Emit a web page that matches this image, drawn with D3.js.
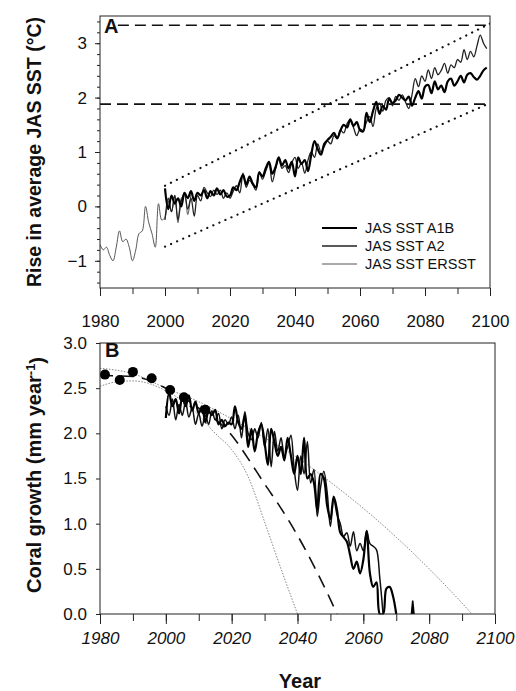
<!DOCTYPE html>
<html>
<head>
<meta charset="utf-8">
<script src="https://cdn.jsdelivr.net/npm/d3@7"></script>
<style>
  body { margin: 0; background: #fff; }
  text { font-family: "Liberation Sans", Arial, sans-serif; fill: #111; }
</style>
</head>
<body>
<script>
// ---- panel A data: rise in average JAS SST (deg C) ----
var ersstStart = 1980;
var sstERSST = [-0.7, -0.8, -0.75, -0.9, -1.0, -0.75, -0.45, -0.65, -0.6, -0.75,
  -1.0, -0.8, -0.5, -0.45, 0.0, -0.3, -0.5, -0.75, 0.05, -0.25,
  -0.2, 0.1, -0.1, 0.2, -0.3, 0.15, 0.2, -0.15, 0.25];

var scenStart = 2000;
var sstA1B = [0.33, -0.05, 0.2, 0.05, 0.15, 0.0, 0.25, 0.15, 0.28, 0.1,
  0.25, 0.2, 0.3, 0.15, 0.28, 0.2, 0.33, 0.22, 0.3, 0.18,
  0.2, 0.35, 0.3, 0.45, 0.58, 0.4, 0.55, 0.42, 0.35, 0.62,
  0.55, 0.7, 0.82, 0.6, 0.72, 0.9, 0.75, 0.85, 0.7, 0.82,
  0.55, 0.9, 0.78, 0.85, 0.65, 0.95, 1.2, 1.05, 0.95, 1.15,
  1.22, 1.28, 1.35, 1.25, 1.4, 1.5, 1.45, 1.6, 1.48, 1.55,
  1.4, 1.38, 1.72, 1.55, 1.75, 1.92, 1.7, 1.85, 1.78, 1.98,
  1.9, 1.95, 2.05, 2.0, 1.95, 2.02, 1.85, 2.0, 2.12, 1.98,
  2.2, 2.23, 2.08, 2.3, 2.15, 2.22, 2.1, 2.3, 2.35, 2.22,
  2.3, 2.4, 2.28, 2.42, 2.45, 2.38, 2.33, 2.4, 2.5, 2.55];
var sstA2 = [-0.25, 0.15, -0.1, 0.2, -0.25, 0.1, 0.25, -0.05, 0.15, -0.18,
  0.2, 0.1, 0.35, 0.25, 0.18, 0.3, 0.22, 0.3, 0.15, 0.25,
  0.15, 0.28, 0.38, 0.25, 0.61, 0.35, 0.48, 0.4, 0.3, 0.64,
  0.5, 0.65, 0.78, 0.45, 0.68, 0.88, 0.7, 0.75, 0.62, 0.8,
  0.9, 0.7, 0.8, 0.61, 0.85, 1.0, 0.9, 1.15, 1.0, 1.1,
  1.2, 1.15, 1.3, 1.25, 1.4, 1.35, 1.52, 1.59, 1.45, 1.3,
  1.42, 1.4, 1.55, 1.65, 1.47, 1.8, 1.9, 1.75, 1.95, 2.0,
  1.85, 2.02, 1.95, 2.05, 1.92, 1.8, 2.05, 2.35, 2.2, 2.4,
  2.3, 2.51, 2.35, 2.55, 2.42, 2.5, 2.63, 2.45, 2.6, 2.55,
  2.7, 2.65, 2.88, 2.7, 2.85, 2.75, 2.95, 3.15, 3.0, 2.9];

var thresholdLevels = [3.33, 1.88];
var thresholdStart = [1985.5, 1980];
var bandYears = [2000, 2100];
var bandUpper = [0.38, 3.36];
var bandLower = [-0.74, 1.9];

// ---- panel B data: coral growth (mm per year) ----
var obsYears = [1981.5, 1986, 1990, 1995.7, 2001.3, 2005.5, 2012];
var obsGrowth = [2.65, 2.59, 2.68, 2.61, 2.48, 2.4, 2.26];

var growthA1B = [2.17, 2.45, 2.3, 2.38, 2.22, 2.4, 2.3, 2.42, 2.25, 2.35,
  2.22, 2.3, 2.12, 2.25, 2.2, 2.26, 2.1, 2.15, 2.08, 2.12,
  2.1, 2.3, 2.12, 2.05, 2.2, 1.85, 2.05, 1.8, 2.0, 2.1,
  1.9, 1.65, 2.05, 1.9, 1.75, 1.85, 1.7, 1.95, 1.75, 1.55,
  1.75, 1.55, 1.95, 1.5, 1.55, 1.45, 1.15, 1.55, 1.5, 1.2,
  1.05, 1.3, 1.15, 0.9, 0.85, 0.8, 0.65, 0.5, 0.58, 0.45,
  0.6, 0.92, 0.45, 0.3, 0.35, 0.0, 0.0, 0.28, 0.3, 0.2, 0.0];
var growthA2 = [2.3, 2.2, 2.38, 2.15, 2.32, 2.2, 2.35, 2.18, 2.28, 2.1,
  2.22, 2.08, 2.2, 2.1, 2.25, 2.15, 2.22, 2.05, 2.15, 2.1,
  2.18, 2.05, 2.2, 1.95, 2.24, 2.0, 1.93, 2.05, 1.95, 2.12,
  1.85, 2.05, 1.63, 2.02, 1.8, 1.95, 1.75, 1.85, 1.98, 1.6,
  1.37, 1.75, 1.55, 1.91, 1.45, 1.6, 1.08, 1.4, 1.58, 1.35,
  0.97, 1.28, 1.1, 1.0, 0.86, 0.9, 0.75, 0.91, 0.7, 0.78,
  0.7, 0.92, 0.78, 0.75, 0.71, 0.4, 0.0];
var spikeYears = [2074.6, 2075, 2075.4];
var spikeGrowth = [0, 0.15, 0];

var fitUpperYears = [1980, 1990, 2000, 2010, 2020, 2030, 2040, 2050, 2060, 2070, 2080, 2090, 2093];
var fitUpper = [2.72, 2.66, 2.5, 2.35, 2.16, 1.95, 1.73, 1.46, 1.17, 0.85, 0.5, 0.12, 0];
var fitMidYears = [1980, 1990, 2000, 2010, 2020, 2025, 2030, 2035, 2040, 2045, 2050, 2052];
var fitMid = [2.64, 2.63, 2.5, 2.28, 1.98, 1.72, 1.44, 1.17, 0.87, 0.53, 0.16, 0];
var fitLowerYears = [1980, 1985, 1990, 1995, 2000, 2005, 2010, 2015, 2020, 2025, 2030, 2035, 2040];
var fitLower = [2.52, 2.57, 2.58, 2.55, 2.47, 2.36, 2.2, 2.0, 1.82, 1.52, 1.02, 0.5, 0];

var legendLabels = ["JAS SST A1B", "JAS SST A2", "JAS SST ERSST"];

function pairs(start, vals) { return vals.map(function(v, i) { return [start + i, v]; }); }
function zip(xs, vals) { return vals.map(function(v, i) { return [xs[i], v]; }); }

var svg = d3.select("body").append("svg")
  .attr("width", 516).attr("height", 691);
svg.append("rect").attr("width", 516).attr("height", 691).attr("fill", "#fff");

// scales
var xA = d3.scaleLinear().domain([1980, 2100]).range([100, 490]);
var yA = d3.scaleLinear().domain([-1.5, 3.5]).range([288, 16]);
var xB = d3.scaleLinear().domain([1980, 2100]).range([100, 495]);
var yB = d3.scaleLinear().domain([0, 3]).range([614, 343]);

var defs = svg.append("defs");
defs.append("clipPath").attr("id", "clipA").append("rect")
  .attr("x", 100).attr("y", 16).attr("width", 390).attr("height", 272);
defs.append("clipPath").attr("id", "clipB").append("rect")
  .attr("x", 100).attr("y", 343).attr("width", 395).attr("height", 271.5);

function styleAxis(g) {
  g.select(".domain").remove();
  g.selectAll(".tick line").attr("stroke", "#222");
  g.selectAll(".tick text").attr("fill", "#111");
}

// ========== panel A ==========
var yearTicks = d3.range(1980, 2101, 10);
var yearLabels = d3.range(1980, 2101, 20);

svg.append("g").attr("transform", "translate(0,288)")
  .call(d3.axisBottom(xA).tickValues(yearTicks).tickSize(6).tickFormat(""))
  .call(styleAxis);
svg.append("g").attr("transform", "translate(0,288)")
  .call(d3.axisBottom(xA).tickValues(yearLabels).tickSize(8).tickPadding(19).tickFormat(d3.format("d")))
  .call(styleAxis)
  .selectAll("text").style("font-size", "17px");

svg.append("g").attr("transform", "translate(100,0)")
  .call(d3.axisLeft(yA).tickValues(d3.range(-14, 35, 2).map(function(d) { return d / 10; })).tickSize(3).tickFormat(""))
  .call(styleAxis);
svg.append("g").attr("transform", "translate(100,0)")
  .call(d3.axisLeft(yA).tickValues([-1, 0, 1, 2, 3]).tickSize(5).tickPadding(8).tickFormat(d3.format("d")))
  .call(styleAxis)
  .selectAll("text").style("font-size", "17px");

var plotA = svg.append("g").attr("clip-path", "url(#clipA)");
var lineA = d3.line().x(function(d) { return xA(d[0]); }).y(function(d) { return yA(d[1]); });
var wiggleA = d3.line().x(function(d) { return xA(d[0]); }).y(function(d) { return yA(d[1]); })
  .curve(d3.curveCatmullRom.alpha(0.5));

// threshold dashes
thresholdLevels.forEach(function(v, i) {
  plotA.append("path").datum([[thresholdStart[i], v], [2100, v]])
    .attr("d", lineA).attr("fill", "none").attr("stroke", "#111")
    .attr("stroke-width", 1.6).attr("stroke-dasharray", "11,6");
});
// trend band (dotted)
[bandUpper, bandLower].forEach(function(b) {
  plotA.append("path").datum(zip(bandYears, b))
    .attr("d", lineA).attr("fill", "none").attr("stroke", "#111")
    .attr("stroke-width", 2.2).attr("stroke-linecap", "round")
    .attr("stroke-dasharray", "0.1,6.5");
});

plotA.append("path").datum(pairs(ersstStart, sstERSST))
  .attr("d", wiggleA).attr("fill", "none").attr("stroke", "#555").attr("stroke-width", 1);
plotA.append("path").datum(pairs(scenStart, sstA2))
  .attr("d", wiggleA).attr("fill", "none").attr("stroke", "#222").attr("stroke-width", 1.3);
plotA.append("path").datum(pairs(scenStart, sstA1B))
  .attr("d", wiggleA).attr("fill", "none").attr("stroke", "#000").attr("stroke-width", 2.2);

svg.append("rect").attr("x", 100).attr("y", 16).attr("width", 390).attr("height", 272)
  .attr("fill", "none").attr("stroke", "#222").attr("stroke-width", 1);

svg.append("text").attr("x", 104).attr("y", 33)
  .style("font-size", "20px").style("font-weight", "bold").text("A");

// legend
var legStyles = [{ w: 2.2, c: "#000" }, { w: 1.3, c: "#222" }, { w: 1, c: "#555" }];
var legRows = [228, 246, 264];
legendLabels.forEach(function(lbl, i) {
  svg.append("line").attr("x1", 322).attr("x2", 357)
    .attr("y1", legRows[i]).attr("y2", legRows[i])
    .attr("stroke", legStyles[i].c).attr("stroke-width", legStyles[i].w);
  svg.append("text").attr("x", 365).attr("y", legRows[i] + 5)
    .style("font-size", "14.5px").text(lbl);
});

svg.append("text")
  .attr("transform", "translate(41,152) rotate(-90)")
  .attr("text-anchor", "middle")
  .style("font-size", "19.5px").style("font-weight", "bold")
  .text("Rise in average JAS SST  (\u00B0C)");

// ========== panel B ==========
svg.append("g").attr("transform", "translate(0,614)")
  .call(d3.axisBottom(xB).tickValues(yearTicks).tickSize(7).tickFormat(""))
  .call(styleAxis);
svg.append("g").attr("transform", "translate(0,614)")
  .call(d3.axisBottom(xB).tickValues(yearLabels).tickSize(10).tickPadding(8).tickFormat(d3.format("d")))
  .call(styleAxis)
  .selectAll("text").style("font-size", "17px").style("font-style", "italic");

svg.append("g").attr("transform", "translate(100,0)")
  .call(d3.axisLeft(yB).tickValues([0, 0.5, 1, 1.5, 2, 2.5, 3]).tickSize(4).tickPadding(9).tickFormat(d3.format(".1f")))
  .call(styleAxis)
  .selectAll("text").style("font-size", "17px");

var plotB = svg.append("g").attr("clip-path", "url(#clipB)");
var lineB = d3.line().x(function(d) { return xB(d[0]); }).y(function(d) { return yB(d[1]); })
  .curve(d3.curveCatmullRom.alpha(0.5));
var smoothB = d3.line().x(function(d) { return xB(d[0]); }).y(function(d) { return yB(d[1]); })
  .curve(d3.curveMonotoneX);

plotB.append("path").datum(zip(fitUpperYears, fitUpper))
  .attr("d", smoothB).attr("fill", "none").attr("stroke", "#777")
  .attr("stroke-width", 0.9).attr("stroke-dasharray", "1.5,1.5");
plotB.append("path").datum(zip(fitLowerYears, fitLower))
  .attr("d", smoothB).attr("fill", "none").attr("stroke", "#777")
  .attr("stroke-width", 0.9).attr("stroke-dasharray", "1.5,1.5");
plotB.append("path").datum(zip(fitMidYears, fitMid))
  .attr("d", smoothB).attr("fill", "none").attr("stroke", "#111")
  .attr("stroke-width", 1.6).attr("stroke-dasharray", "13,8");

plotB.append("path").datum(pairs(scenStart, growthA2))
  .attr("d", lineB).attr("fill", "none").attr("stroke", "#111").attr("stroke-width", 1.5);
plotB.append("path").datum(pairs(scenStart, growthA1B))
  .attr("d", lineB).attr("fill", "none").attr("stroke", "#000").attr("stroke-width", 2.2);
plotB.append("path").datum(zip(spikeYears, spikeGrowth))
  .attr("d", d3.line().x(function(d) { return xB(d[0]); }).y(function(d) { return yB(d[1]); }))
  .attr("fill", "#000").attr("stroke", "#000").attr("stroke-width", 1.5);

plotB.selectAll("circle.obs").data(zip(obsYears, obsGrowth)).enter()
  .append("circle").attr("class", "obs")
  .attr("cx", function(d) { return xB(d[0]); })
  .attr("cy", function(d) { return yB(d[1]); })
  .attr("r", 5).attr("fill", "#000");

svg.append("rect").attr("x", 100).attr("y", 343).attr("width", 395).attr("height", 271)
  .attr("fill", "none").attr("stroke", "#222").attr("stroke-width", 1);

svg.append("text").attr("x", 105).attr("y", 357)
  .style("font-size", "20px").style("font-weight", "bold").text("B");

var ttlB = svg.append("text")
  .attr("transform", "translate(41,475) rotate(-90)")
  .attr("text-anchor", "middle")
  .style("font-size", "20px").style("font-weight", "bold");
ttlB.append("tspan").text("Coral growth (mm year");
ttlB.append("tspan").attr("dy", "-0.45em").style("font-size", "13px").text("-1");
ttlB.append("tspan").attr("dy", "0.45em").text(")");

svg.append("text").attr("x", 300).attr("y", 688)
  .attr("text-anchor", "middle")
  .style("font-size", "20px").style("font-weight", "bold").text("Year");
</script>
</body>
</html>
